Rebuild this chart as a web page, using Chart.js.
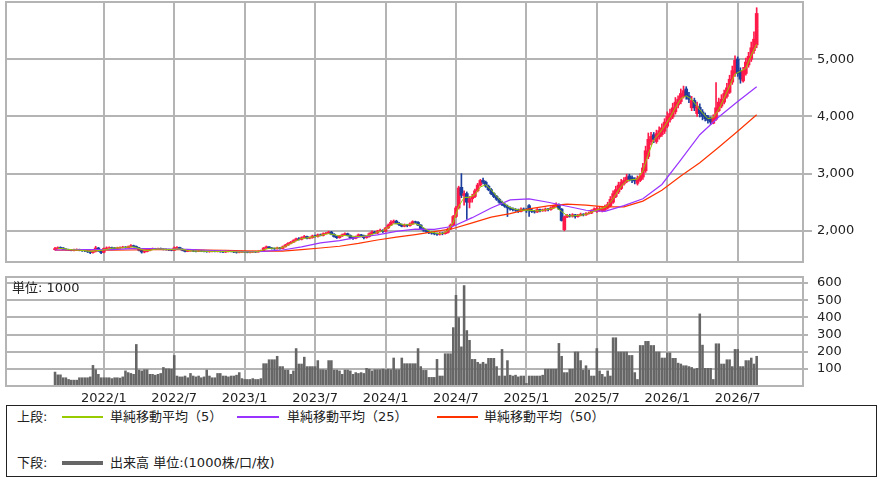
<!DOCTYPE html>
<html>
<head>
<meta charset="utf-8">
<script src="https://cdn.jsdelivr.net/npm/chart.js@4.4.0/dist/chart.umd.min.js"></script>
<style>
  body { margin: 0; background: #fff; }
  #wrap { position: relative; width: 883px; height: 483px; font-family: 'DejaVu Sans', 'Noto Sans CJK JP', sans-serif; font-size: 13px; color: #222; }
  #price { position: absolute; left: 0; top: 0; }
  #vol { position: absolute; left: 0; top: 270px; }
  .t { position: absolute; white-space: nowrap; line-height: 16px; }
  .ln { position: absolute; height: 1.5px; }
  #legend { position: absolute; left: 6px; top: 405px; width: 871px; height: 72px; box-sizing: border-box; border: 1.5px solid #222; }
</style>
</head>
<body>
<div id="wrap">
  <canvas id="price" width="883" height="270"></canvas>
  <canvas id="vol" width="883" height="135"></canvas>
  <div class="t" style="left:12px;top:280px;">単位: 1000</div>
  <div id="legend"></div>
  <div class="t" style="left:17px;top:409px;">上段:</div>
  <div class="ln" style="left:62px;top:416px;width:41px;background:#99cc00;"></div>
  <div class="t" style="left:110px;top:409px;">単純移動平均（5）</div>
  <div class="ln" style="left:237px;top:416px;width:42px;background:#9933ff;"></div>
  <div class="t" style="left:287px;top:409px;">単純移動平均（25）</div>
  <div class="ln" style="left:437px;top:416px;width:41px;background:#ff3300;"></div>
  <div class="t" style="left:484px;top:409px;">単純移動平均（50）</div>
  <div class="t" style="left:17px;top:455px;">下段:</div>
  <div class="ln" style="left:62px;top:461px;width:41px;height:4px;background:#666;"></div>
  <div class="t" style="left:110px;top:455px;">出来高 単位:(1000株/口/枚)</div>
</div>
<script>
// weekly bars, index 0 = first week shown (late Aug 2021)
const tickWeeks = [18, 44, 70, 96, 122, 148, 174, 200, 226, 252];
const tickLabels = ['2022/1', '2022/7', '2023/1', '2023/7', '2024/1', '2024/7', '2025/1', '2025/7', '2026/1', '2026/7'];
const priceTicks = [2000, 3000, 4000, 5000];
const volTicks = [100, 200, 300, 400, 500, 600];

const opens = [
  1670, 1690, 1710, 1700, 1680, 1670, 1665, 1660, 1665, 1670,
  1660, 1655, 1650, 1640, 1620, 1640, 1700, 1650, 1625, 1690,
  1700, 1705, 1700, 1690, 1700, 1710, 1715, 1705, 1720, 1740,
  1725, 1700, 1660, 1630, 1640, 1660, 1680, 1685, 1680, 1690,
  1680, 1675, 1670, 1665, 1660, 1700, 1710, 1680, 1660, 1640,
  1650, 1650, 1645, 1640, 1650, 1645, 1640, 1635, 1640, 1645,
  1640, 1640, 1635, 1630, 1640, 1645, 1640, 1630, 1625, 1630,
  1635, 1630, 1625, 1630, 1635, 1630, 1640, 1650, 1700, 1720,
  1700, 1690, 1685, 1700, 1690, 1720, 1750, 1780, 1800, 1830,
  1860, 1850, 1880, 1900, 1870, 1880, 1910, 1900, 1930, 1920,
  1950, 1960, 1980, 1940, 1900, 1880, 1910, 1930, 1950, 1920,
  1880, 1870, 1900, 1930, 1920, 1880, 1900, 1950, 1980, 1960,
  1990, 2010, 1990, 2050, 2100, 2150, 2170, 2130, 2110, 2080,
  2100, 2090, 2120, 2160, 2150, 2100, 2040, 2010, 1990, 1970,
  1960, 1950, 1940, 1960, 1950, 1970, 2030, 2100, 2250, 2400,
  2760, 2620, 2650, 2500, 2560, 2600, 2700, 2800, 2880, 2850,
  2780, 2720, 2650, 2600, 2550, 2500, 2460, 2430, 2400, 2380,
  2370, 2360, 2340, 2380, 2370, 2440, 2360, 2340, 2330, 2370,
  2350, 2360, 2380, 2370, 2400, 2430, 2460, 2380, 2020, 2240,
  2270, 2260, 2280, 2250, 2270, 2290, 2280, 2300, 2310, 2350,
  2340, 2360, 2350, 2370, 2400, 2440, 2500, 2600, 2680, 2740,
  2820, 2860, 2960, 2930, 2900, 2830, 2880, 2940, 3050, 3300,
  3560, 3680, 3560, 3640, 3680, 3740, 3830, 3940, 3990, 4080,
  4200, 4260, 4350, 4480, 4360, 4150, 4280, 4050, 4160, 4080,
  4020, 3990, 3970, 3880, 3950, 4100, 4180, 4250, 4350, 4420,
  4600, 4750, 5000, 4800, 4620, 4750, 4900, 5000, 5150, 5250
];
const closes = [
  1690, 1705, 1700, 1680, 1670, 1665, 1660, 1665, 1670, 1660,
  1655, 1650, 1640, 1620, 1635, 1700, 1650, 1620, 1690, 1700,
  1705, 1700, 1690, 1700, 1710, 1715, 1705, 1720, 1740, 1725,
  1700, 1660, 1630, 1640, 1660, 1680, 1685, 1680, 1690, 1680,
  1675, 1670, 1665, 1660, 1700, 1710, 1680, 1660, 1640, 1650,
  1650, 1645, 1640, 1650, 1645, 1640, 1635, 1640, 1645, 1640,
  1640, 1635, 1630, 1640, 1645, 1640, 1630, 1625, 1630, 1635,
  1630, 1625, 1630, 1635, 1630, 1640, 1650, 1700, 1720, 1700,
  1690, 1685, 1700, 1690, 1720, 1750, 1780, 1800, 1830, 1860,
  1850, 1880, 1900, 1870, 1880, 1910, 1900, 1930, 1920, 1950,
  1960, 1980, 1940, 1900, 1880, 1910, 1930, 1950, 1920, 1880,
  1870, 1900, 1930, 1920, 1880, 1900, 1950, 1980, 1960, 1990,
  2010, 1990, 2050, 2100, 2150, 2170, 2130, 2110, 2080, 2100,
  2090, 2120, 2160, 2150, 2100, 2040, 2010, 1990, 1970, 1960,
  1950, 1940, 1960, 1950, 1970, 2030, 2100, 2250, 2400, 2750,
  2620, 2650, 2500, 2560, 2600, 2700, 2800, 2880, 2850, 2780,
  2720, 2650, 2600, 2550, 2500, 2460, 2430, 2400, 2380, 2370,
  2360, 2340, 2380, 2370, 2350, 2360, 2340, 2330, 2370, 2350,
  2360, 2380, 2370, 2400, 2430, 2460, 2380, 2180, 2240, 2270,
  2260, 2280, 2250, 2270, 2290, 2280, 2300, 2310, 2350, 2380,
  2390, 2380, 2400, 2420, 2460, 2550, 2650, 2720, 2800, 2850,
  2880, 2940, 2900, 2880, 2870, 2920, 2950, 3100, 3400, 3600,
  3650, 3600, 3700, 3750, 3800, 3900, 4000, 4050, 4150, 4250,
  4300, 4400, 4450, 4350, 4300, 4280, 4150, 4180, 4050, 4000,
  3960, 3930, 3900, 3980, 4150, 4250, 4300, 4400, 4500, 4650,
  4800, 4980, 4750, 4650, 4800, 4950, 5050, 5200, 5350, 5800
];
const highs = [
  1710, 1720, 1720, 1705, 1690, 1680, 1675, 1680, 1685, 1680,
  1670, 1665, 1660, 1650, 1645, 1730, 1710, 1660, 1700, 1720,
  1720, 1715, 1710, 1715, 1720, 1730, 1725, 1735, 1760, 1750,
  1735, 1710, 1670, 1650, 1670, 1690, 1700, 1695, 1700, 1700,
  1690, 1685, 1680, 1675, 1720, 1725, 1715, 1690, 1670, 1660,
  1665, 1660, 1655, 1660, 1660, 1655, 1650, 1650, 1655, 1655,
  1655, 1650, 1645, 1650, 1655, 1655, 1650, 1640, 1640, 1645,
  1645, 1640, 1640, 1645, 1645, 1650, 1665, 1710, 1735, 1725,
  1710, 1700, 1715, 1710, 1735, 1765, 1795, 1815, 1845, 1875,
  1880, 1895, 1920, 1910, 1895, 1925, 1925, 1945, 1945, 1965,
  1975, 1995, 1990, 1950, 1910, 1920, 1945, 1965, 1960, 1930,
  1890, 1910, 1945, 1940, 1925, 1910, 1965, 2000, 1990, 2010,
  2030, 2020, 2060, 2120, 2180, 2190, 2185, 2150, 2120, 2120,
  2115, 2140, 2175, 2170, 2160, 2110, 2050, 2025, 2000, 1985,
  1975, 1965, 1975, 1970, 1985, 2045, 2120, 2270, 2430, 2780,
  3000, 2700, 2680, 2600, 2640, 2730, 2830, 2900, 2920, 2870,
  2800, 2740, 2670, 2620, 2570, 2520, 2480, 2450, 2420, 2400,
  2390, 2380, 2400, 2400, 2390, 2460, 2380, 2360, 2390, 2380,
  2380, 2400, 2395, 2420, 2450, 2490, 2470, 2390, 2260, 2290,
  2290, 2300, 2290, 2290, 2310, 2300, 2320, 2330, 2370, 2400,
  2420, 2410, 2430, 2450, 2500, 2600, 2700, 2780, 2850, 2900,
  2930, 2990, 2990, 2960, 2930, 2960, 3000, 3180, 3480, 3710,
  3720, 3720, 3760, 3820, 3870, 3960, 4080, 4130, 4230, 4330,
  4360, 4480, 4530, 4520, 4420, 4350, 4320, 4250, 4220, 4120,
  4060, 4020, 3990, 4030, 4590, 4320, 4380, 4460, 4580, 4720,
  4880, 5060, 5040, 4850, 4860, 5020, 5120, 5300, 5480, 5900
];
const lows = [
  1660, 1680, 1690, 1670, 1660, 1655, 1650, 1650, 1655, 1650,
  1640, 1635, 1620, 1600, 1610, 1630, 1640, 1600, 1615, 1680,
  1690, 1690, 1680, 1680, 1690, 1700, 1695, 1700, 1715, 1715,
  1690, 1650, 1610, 1615, 1630, 1650, 1670, 1670, 1670, 1670,
  1665, 1660, 1655, 1650, 1655, 1690, 1675, 1650, 1630, 1635,
  1640, 1635, 1630, 1635, 1635, 1630, 1625, 1625, 1630, 1630,
  1630, 1625, 1620, 1620, 1630, 1630, 1620, 1610, 1615, 1620,
  1620, 1615, 1615, 1620, 1620, 1625, 1635, 1645, 1690, 1690,
  1680, 1675, 1680, 1680, 1685, 1715, 1745, 1770, 1795, 1825,
  1835, 1840, 1870, 1860, 1860, 1870, 1890, 1890, 1910, 1910,
  1940, 1950, 1930, 1890, 1865, 1870, 1900, 1920, 1910, 1860,
  1850, 1860, 1890, 1910, 1860, 1870, 1890, 1940, 1950, 1950,
  1980, 1970, 1980, 2040, 2090, 2130, 2120, 2090, 2070, 2070,
  2070, 2080, 2110, 2130, 2090, 2030, 1990, 1970, 1950, 1940,
  1930, 1920, 1925, 1930, 1940, 1960, 2020, 2090, 2230, 2380,
  2580, 2450, 2200, 2400, 2500, 2580, 2680, 2780, 2820, 2760,
  2700, 2630, 2580, 2530, 2480, 2440, 2410, 2250, 2360, 2350,
  2340, 2320, 2330, 2350, 2320, 2250, 2320, 2310, 2320, 2330,
  2340, 2340, 2350, 2360, 2390, 2420, 2370, 2170, 2000, 2230,
  2240, 2240, 2220, 2240, 2260, 2260, 2270, 2290, 2300, 2340,
  2320, 2340, 2330, 2350, 2380, 2420, 2480, 2580, 2650, 2720,
  2800, 2840, 2870, 2840, 2820, 2800, 2860, 2900, 3020, 3260,
  3500, 3540, 3530, 3600, 3650, 3700, 3800, 3900, 3960, 4040,
  4150, 4220, 4320, 4300, 4240, 4100, 4100, 4000, 3990, 3940,
  3920, 3880, 3860, 3870, 3930, 4080, 4150, 4220, 4320, 4400,
  4560, 4700, 4700, 4580, 4600, 4720, 4860, 4960, 5100, 5200
];
const volumes = [
  83, 67, 67, 50, 50, 40, 36, 36, 36, 50,
  50, 50, 50, 55, 122, 97, 70, 50, 50, 50,
  50, 45, 50, 50, 48, 55, 90, 80, 75, 70,
  244, 95, 90, 97, 97, 70, 70, 65, 70, 75,
  110, 102, 102, 100, 180, 60, 55, 55, 60, 50,
  75, 60, 55, 60, 50, 55, 95, 60, 50, 50,
  75, 75, 60, 60, 55, 60, 60, 65, 80, 45,
  40, 40, 40, 45, 40, 40, 45, 132, 132, 155,
  155, 155, 175, 115, 115, 95, 95, 70, 90, 220,
  130, 130, 170, 115, 115, 115, 115, 150, 97, 97,
  95, 150, 150, 95, 95, 90, 70, 95, 95, 90,
  70, 80, 75, 80, 75, 105, 100, 90, 97, 97,
  97, 100, 97, 100, 97, 165, 97, 97, 165, 132,
  132, 132, 132, 132, 220, 115, 93, 93, 52, 52,
  52, 157, 60, 60, 190, 190, 190, 342, 530, 400,
  230, 587, 325, 268, 157, 157, 140, 130, 140, 130,
  163, 163, 163, 115, 60, 215, 60, 150, 65, 60,
  65, 55, 60, 60, 17, 60, 60, 60, 60, 60,
  65, 100, 100, 100, 100, 100, 250, 175, 80, 80,
  100, 100, 200, 200, 150, 95, 120, 95, 60, 60,
  220, 90, 70, 55, 90, 60, 283, 283, 200, 200,
  200, 200, 180, 180, 80, 40, 238, 238, 262, 262,
  238, 238, 200, 200, 165, 165, 195, 195, 163, 163,
  135, 130, 120, 120, 115, 110, 100, 105, 422, 240,
  105, 105, 105, 40, 248, 248, 130, 130, 155, 155,
  115, 215, 215, 115, 115, 150, 150, 165, 130, 175
];

// moving averages
// 5-week: every 2nd week starting at week 1
const ma5 = [
  1695, 1690, 1675, 1666, 1662, 1652, 1640, 1651, 1659, 1673,
  1697, 1701, 1704, 1718, 1718, 1691, 1658, 1659, 1679, 1682,
  1676, 1674, 1683, 1678, 1656, 1645, 1646, 1642, 1641, 1640,
  1638, 1638, 1637, 1634, 1630, 1630, 1630, 1637, 1668, 1692,
  1699, 1697, 1728, 1776, 1824, 1864, 1876, 1892, 1908, 1932,
  1950, 1932, 1912, 1918, 1910, 1900, 1900, 1916, 1934, 1978,
  2000, 2060, 2120, 2128, 2102, 2110, 2124, 2092, 2022, 1976,
  1956, 1954, 2002, 2150, 2424, 2584, 2586, 2632, 2766, 2806,
  2720, 2604, 2508, 2434, 2388, 2366, 2360, 2360, 2350, 2350,
  2366, 2388, 2408, 2338, 2266, 2260, 2270, 2278, 2306, 2346,
  2380, 2410, 2496, 2636, 2780, 2874, 2894, 2904, 3048, 3340,
  3590, 3700, 3830, 3980, 4150, 4310, 4360, 4300, 4180, 4060,
  3960, 3980, 4120, 4320, 4530, 4740, 4790, 4840, 5070, 5260
];
// 25 / 50-week: every 7th week starting at week 0
const ma25 = [
  1665, 1670, 1670, 1670, 1690, 1690, 1680, 1675, 1660, 1645,
  1635, 1640, 1665, 1720, 1790, 1830, 1890, 1930, 1990, 2030,
  2025, 2080, 2230, 2400, 2540, 2560, 2500, 2430, 2360, 2340,
  2440, 2560, 2810, 3240, 3680, 3990, 4260, 4520
];
const ma50 = [
  1660, 1660, 1660, 1660, 1665, 1670, 1670, 1670, 1665, 1660,
  1650, 1645, 1645, 1670, 1700, 1730, 1780, 1840, 1890, 1935,
  1985, 2040, 2140, 2240, 2300, 2385, 2435, 2465, 2450, 2420,
  2420, 2520, 2710, 2960, 3190, 3460, 3740, 4030
];

const RED = '#ff1a4a';
const BLUE = '#1c3f9e';
const GRID = '#b4b4b4';
const FONT = "'DejaVu Sans', 'Noto Sans CJK JP', sans-serif";

Chart.defaults.font.family = FONT;
Chart.defaults.font.size = 13;
Chart.defaults.color = '#222';
Chart.defaults.animation = false;

const weeks = closes.map((_, i) => i);
const candleColor = ctx => closes[ctx.dataIndex] >= opens[ctx.dataIndex] ? RED : BLUE;

// grey frame round the plot area
const frame = {
  id: 'frame',
  afterDatasetsDraw(chart) {
    const { ctx, chartArea: a } = chart;
    ctx.save();
    ctx.strokeStyle = GRID;
    ctx.lineWidth = 2;
    ctx.strokeRect(a.left, a.top, a.right - a.left, a.bottom - a.top);
    ctx.restore();
  }
};

// keep the plot box where the reference has it
function noPad(s) {
  s.paddingTop = 0;
  s.paddingBottom = 0;
  s.paddingLeft = 0;
  s.paddingRight = 0;
}

function weekAxis(showLabels) {
  return {
    type: 'linear',
    min: -18.1,
    max: 276.1,
    offset: false,
    afterBuildTicks: s => { s.ticks = tickWeeks.map(v => ({ value: v })); },
    afterFit: s => { s.height = showLabels ? 19 : 0; noPad(s); },
    grid: { color: GRID, lineWidth: 2, drawTicks: false, offset: false },
    border: { display: false },
    ticks: {
      display: showLabels,
      padding: 5,
      maxRotation: 0,
      autoSkip: false,
      callback: v => tickLabels[tickWeeks.indexOf(v)]
    }
  };
}

new Chart(document.getElementById('price'), {
  type: 'bar',
  data: {
    datasets: [
      {
        type: 'line',
        data: ma5.map((v, k) => ({ x: 1 + 2 * k, y: v })),
        borderColor: '#99cc00',
        borderWidth: 1,
        pointRadius: 0,
        order: 0
      },
      {
        type: 'line',
        data: ma25.map((v, k) => ({ x: 7 * k, y: v })),
        borderColor: '#9933ff',
        borderWidth: 1.2,
        pointRadius: 0,
        order: 1
      },
      {
        type: 'line',
        data: ma50.map((v, k) => ({ x: 7 * k, y: v })),
        borderColor: '#ff3300',
        borderWidth: 1.2,
        pointRadius: 0,
        order: 2
      },
      {
        data: weeks.map(i => ({ x: i, y: [opens[i], closes[i]] })),
        backgroundColor: candleColor,
        barThickness: 3,
        grouped: false,
        order: 3
      },
      {
        data: weeks.map(i => ({ x: i, y: [lows[i], highs[i]] })),
        backgroundColor: candleColor,
        barThickness: 1,
        grouped: false,
        order: 4
      }
    ]
  },
  options: {
    responsive: false,
    layout: { padding: { left: 6, top: 2, right: 0, bottom: 8 } },
    plugins: { legend: { display: false }, tooltip: { enabled: false } },
    scales: {
      x: weekAxis(false),
      y: {
        position: 'right',
        min: 1455,
        max: 6000,
        afterBuildTicks: s => { s.ticks = priceTicks.map(v => ({ value: v })); },
        afterFit: s => { s.width = 80; noPad(s); },
        grid: { color: GRID, lineWidth: 2, tickLength: 9 },
        border: { display: false },
        ticks: { padding: 5, callback: v => v.toLocaleString('en-US') }
      }
    }
  },
  plugins: [frame]
});

new Chart(document.getElementById('vol'), {
  type: 'bar',
  data: {
    datasets: [{
      data: weeks.map(i => ({ x: i, y: volumes[i] })),
      backgroundColor: '#666666',
      barPercentage: 1,
      categoryPercentage: 0.95
    }]
  },
  options: {
    responsive: false,
    layout: { padding: { left: 6, top: 7, right: 0, bottom: 0 } },
    plugins: { legend: { display: false }, tooltip: { enabled: false } },
    scales: {
      x: weekAxis(true),
      y: {
        position: 'right',
        min: 0,
        max: 635,
        afterBuildTicks: s => { s.ticks = volTicks.map(v => ({ value: v })); },
        afterFit: s => { s.width = 80; noPad(s); },
        grid: { color: GRID, lineWidth: 2, tickLength: 5 },
        border: { display: false },
        ticks: { padding: 9 }
      }
    }
  },
  plugins: [frame]
});
</script>
</body>
</html>
